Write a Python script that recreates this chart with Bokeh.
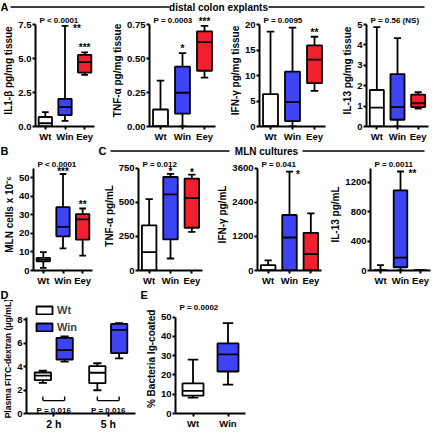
from bokeh.plotting import figure
from bokeh.layouts import column, row
from bokeh.models import (ColumnDataSource, FactorRange, Range1d, FixedTicker,
                          NumeralTickFormatter, LabelSet, Legend, LegendItem)
from bokeh.transform import dodge
from bokeh.core.properties import value
from bokeh.embed import file_html
from bokeh.resources import INLINE

# ---------------------------------------------------------------- data
groups3 = ["Wt", "Win", "Eey"]
groups2 = ["Wt", "Win"]
timepoints = ["2 h", "5 h"]

# five-number summaries per group: [lower whisker, Q1, median, Q3, upper whisker]
il1b_tissue = [[0.0, 0.0, 0.24, 0.70, 1.06], [0.42, 0.83, 1.42, 2.03, 7.40], [3.80, 3.96, 4.74, 5.26, 5.45]]
tnfa_tissue = [[0.0, 0.0, 0.0, 0.125, 0.337], [0.0, 0.094, 0.248, 0.44, 0.54], [0.36, 0.41, 0.62, 0.70, 0.74]]
ifng_tissue = [[0.0, 0.0, 0.0, 6.35, 18.6], [0.0, 1.07, 4.78, 10.75, 19.4], [7.0, 8.5, 13.1, 15.9, 17.6]]
il13_tissue = [[0.0, 0.0, 0.93, 1.79, 4.87], [0.0, 0.33, 0.95, 2.57, 4.33], [0.88, 0.95, 1.14, 1.56, 1.68]]
mln_cells = [[1.4, 4.95, 5.8, 6.8, 9.9], [11.9, 18.4, 23.5, 34.1, 52.0], [8.0, 16.6, 27.5, 30.4, 33.4]]
tnfa_mln = [[0, 0, 135, 331, 524], [88, 228, 559, 687, 710], [284, 314, 532, 675, 705]]
ifng_mln = [[0, 0, 0, 190, 358], [0, 0, 1163, 1957, 3488], [0, 0, 581, 1330, 2012]]
il13_mln = [[0, 0, 0, 0, 74], [0, 44, 175, 1091, 1348], [0, 0, 0, 0, 0]]
fitc_wt = [[2.60, 2.85, 3.22, 3.49, 3.64], [1.98, 2.58, 3.47, 4.04, 4.28]]
fitc_win = [[4.41, 4.60, 5.40, 6.44, 6.56], [4.70, 5.15, 7.13, 7.63, 7.70]]
ig_coated = [[8.2, 9.3, 11.8, 15.6, 28.0], [15.0, 21.8, 30.7, 36.4, 46.9]]

# significance marks
il1b_stars = ["", "**", "***"]
tnfa_t_stars = ["", "*", "***"]
ifng_t_stars = ["", "", "**"]
il13_t_stars = ["", "", ""]
mln_stars = ["", "***", "**"]
tnfa_m_stars = ["", "*", "*"]
ifng_m_stars = ["", "*", ""]
il13_m_stars = ["", "**", ""]

# P values
p_il1b, p_tnfa_t, p_ifng_t, p_il13_t = "P < 0.0001", "P = 0.0003", "P = 0.0095", "P = 0.56 (NS)"
p_mln, p_tnfa_m, p_ifng_m, p_il13_m = "P < 0.0001", "P = 0.012", "P = 0.041", "P = 0.0011"
p_fitc = ["P = 0.016", "P = 0.016"]
p_ig = "P = 0.0002"

# axis ticks
ticks_il1b = [0, 2.5, 5.0, 7.5]
ticks_tnfa_t = [0, 0.25, 0.50, 0.75]
ticks_ifng_t = [0, 5, 10, 15, 20]
ticks_il13_t = [0, 1, 2, 3, 4, 5]
ticks_mln = [0, 10, 20, 30, 40, 50]
ticks_tnfa_m = [0, 250, 500, 750]
ticks_ifng_m = [0, 1200, 2400, 3600]
ticks_il13_m = [0, 400, 800, 1200]
ticks_fitc = [0, 2, 4, 6, 8]
ticks_ig = [0, 10, 20, 30, 40, 50]

# ---------------------------------------------------------------- style
FONT = "Liberation Sans"
WHITE, BLUE, RED = "#ffffff", "#3c44f4", "#f2202f"
LW = 1.8


def style(p, ylabel, ticks, fmt, axis_top, ylabel_size="10px"):
    p.xgrid.visible = False
    p.ygrid.visible = False
    p.outline_line_color = None
    for ax in (p.xaxis[0], p.yaxis[0]):
        ax.axis_line_width = 2
        ax.axis_line_color = "black"
        ax.major_tick_line_width = 2
        ax.major_tick_line_color = "black"
        ax.major_tick_in = 0
        ax.major_tick_out = 3
        ax.minor_tick_line_color = None
        ax.major_label_text_font = FONT
        ax.major_label_text_font_size = "9.5px"
        ax.major_label_text_font_style = "bold"
        ax.major_label_text_color = "black"
        ax.major_label_standoff = 1
    p.yaxis.ticker = FixedTicker(ticks=ticks)
    p.yaxis.formatter = NumeralTickFormatter(format=fmt)
    p.yaxis.bounds = (0, axis_top)
    p.yaxis.axis_label = ylabel
    p.yaxis.axis_label_text_font = FONT
    p.yaxis.axis_label_text_font_size = ylabel_size
    p.yaxis.axis_label_text_font_style = "bold"
    p.yaxis.axis_label_text_color = "black"
    p.yaxis.axis_label_standoff = 1


def y_end_for(axis_top, height, tb, bb, extra_px):
    frame_h = height - tb - bb
    return axis_top * frame_h / (frame_h - extra_px)


def add_ptext(p, first_cat, y_end, text):
    src = ColumnDataSource(dict(x=[first_cat], y=[y_end], t=[text]))
    p.text(x=dodge("x", -0.5, range=p.x_range), y="y", text="t", source=src,
           x_offset=4, y_offset=1, text_align="left", text_baseline="top",
           text_font=value(FONT), text_font_size="8px", text_font_style="bold", text_color="black")


def draw_boxes(p, cats, stats, colors, box_w, off=0.0):
    src = ColumnDataSource(dict(
        x=list(cats), lo=[s[0] for s in stats], q1=[s[1] for s in stats],
        med=[s[2] for s in stats], q3=[s[3] for s in stats], hi=[s[4] for s in stats],
        color=list(colors)))
    xc = dodge("x", off, range=p.x_range)
    xl = dodge("x", off - box_w / 2, range=p.x_range)
    xr = dodge("x", off + box_w / 2, range=p.x_range)
    cl = dodge("x", off - box_w / 4, range=p.x_range)
    cr = dodge("x", off + box_w / 4, range=p.x_range)
    kw = dict(source=src, line_color="black", line_width=LW)
    p.segment(x0=xc, x1=xc, y0="q3", y1="hi", **kw)
    p.segment(x0=xc, x1=xc, y0="lo", y1="q1", **kw)
    p.segment(x0=cl, x1=cr, y0="hi", y1="hi", **kw)
    p.segment(x0=cl, x1=cr, y0="lo", y1="lo", **kw)
    r = p.vbar(x=xc, width=box_w, bottom="q1", top="q3", fill_color="color", **kw)
    p.segment(x0=xl, x1=xr, y0="med", y1="med", **kw)
    return r


def add_stars(p, cats, stats, stars, sides):
    xs, ys, ts, dx, dy = [], [], [], [], []
    for c, s, t, side in zip(cats, stats, stars, sides):
        if not t:
            continue
        xs.append(c)
        ys.append(s[4])
        ts.append(t)
        if side == "right":
            dx.append(5 + 3.5 * len(t))
            dy.append(-8)
        elif side == "low":
            dx.append(0)
            dy.append(-3)
        else:
            dx.append(0)
            dy.append(-1)
    src = ColumnDataSource(dict(x=xs, y=ys, text=ts, dx=dx, dy=dy))
    p.add_layout(LabelSet(x="x", y="y", text="text", x_offset="dx", y_offset="dy", source=src,
                          text_align="center", text_baseline="bottom",
                          text_font=value(FONT), text_font_size="10px",
                          text_font_style="bold", text_color="black"))


def box_panel(width, height, stats, stars, sides, axis_top, ticks, fmt, ylabel, ptext,
              lb, rb, bb, extra=10, tb=1, box_w=0.68, ylabel_size="10px"):
    y_end = y_end_for(axis_top, height, tb, bb, extra)
    p = figure(width=width, height=height, x_range=FactorRange(factors=groups3),
               y_range=Range1d(0, y_end), output_backend="svg", toolbar_location=None,
               min_border_left=lb, min_border_right=rb, min_border_top=tb, min_border_bottom=bb)
    style(p, ylabel, ticks, fmt, axis_top, ylabel_size)
    draw_boxes(p, groups3, stats, [WHITE, BLUE, RED], box_w)
    add_stars(p, groups3, stats, stars, sides)
    add_ptext(p, groups3[0], y_end, ptext)
    return p


def header(width, height, letters, lines, titles):
    h = figure(width=width, height=height, x_range=Range1d(0, width), y_range=Range1d(0, height),
               x_axis_type=None, y_axis_type=None, toolbar_location=None, output_backend="svg",
               min_border=0, outline_line_color=None)
    mid = height / 2
    if letters:
        h.text(x=[l[0] for l in letters], y=[mid] * len(letters), text=[l[1] for l in letters],
               text_align="left", text_baseline="middle", text_font=value(FONT),
               text_font_size="11px", text_font_style="bold", text_color="black")
    if lines:
        h.segment(x0=[l[0] for l in lines], x1=[l[1] for l in lines], y0=[mid] * len(lines),
                  y1=[mid] * len(lines), line_color="black", line_width=1.6)
    if titles:
        h.text(x=[t[0] for t in titles], y=[mid] * len(titles), text=[t[1] for t in titles],
               text_align="center", text_baseline="middle", text_font=value(FONT),
               text_font_size="10px", text_font_style="bold", text_color="black")
    return h


# ---------------------------------------------------------------- row A
HA = 131
a1 = box_panel(108, HA, il1b_tissue, il1b_stars, ["top", "right", "top"], 7.5, ticks_il1b, "0.0",
               "IL1-β pg/mg tissue", p_il1b, 30, 14, 18)
a2 = box_panel(117, HA, tnfa_tissue, tnfa_t_stars, ["top", "top", "top"], 0.75, ticks_tnfa_t, "0.00",
               "TNF-α pg/mg tissue", p_tnfa_t, 41, 10, 18)
a3 = box_panel(114, HA, ifng_tissue, ifng_t_stars, ["top", "top", "top"], 20, ticks_ifng_t, "0",
               "IFN-γ pg/mg tissue", p_ifng_t, 34, 14, 18)
a4 = box_panel(93, HA, il13_tissue, il13_t_stars, ["top", "top", "top"], 5, ticks_il13_t, "0",
               "IL-13 pg/mg tissue", p_il13_t, 22, 4, 18)

# ---------------------------------------------------------------- row B / C
HB = 131
b1 = box_panel(100, HB, mln_cells, mln_stars, ["top", "low", "top"], 55, ticks_mln, "0",
               "MLN cells x 10⁻⁶", p_mln, 26, 8, 17)
c1 = box_panel(114, HB, tnfa_mln, tnfa_m_stars, ["top", "low", "low"], 750, ticks_tnfa_m, "0",
               "TNF-α  pg/mL", p_tnfa_m, 34, 12, 17)
c2 = box_panel(113, HB, ifng_mln, ifng_m_stars, ["top", "right", "top"], 3600, ticks_ifng_m, "0",
               "IFN-γ pg/mL", p_ifng_m, 38, 6, 17)
c3 = box_panel(105, HB, il13_mln, il13_m_stars, ["top", "right", "top"], 1390, ticks_il13_m, "0",
               "IL-13 pg/mL", p_il13_m, 38, 2, 17)

# ---------------------------------------------------------------- row D / E
HD = 132
D_EXTRA = 16
d_end = y_end_for(8.2, HD, 1, 17, D_EXTRA)
d = figure(width=142, height=HD, x_range=FactorRange(factors=timepoints), y_range=Range1d(0, d_end),
           output_backend="svg", toolbar_location=None,
           min_border_left=22, min_border_right=7, min_border_top=1, min_border_bottom=17)
style(d, "Plasma  FITC-dextran (μg/mL)", ticks_fitc, "0", 8.2, ylabel_size="8.6px")
d.xaxis.major_label_text_font_size = "10.5px"
r_wt = draw_boxes(d, timepoints, fitc_wt, [WHITE, WHITE], 0.3, off=-0.2)
r_win = draw_boxes(d, timepoints, fitc_win, [BLUE, BLUE], 0.3, off=0.2)
br = ColumnDataSource(dict(x=timepoints, y=[1.1, 1.1], top=[1.45, 1.45], p=p_fitc, ty=[0.22, 0.22]))
bl = dodge("x", -0.2, range=d.x_range)
bri = dodge("x", 0.2, range=d.x_range)
d.segment(x0=bl, x1=bri, y0="y", y1="y", source=br, line_color="black", line_width=1.4)
d.segment(x0=bl, x1=bl, y0="y", y1="top", source=br, line_color="black", line_width=1.4)
d.segment(x0=bri, x1=bri, y0="y", y1="top", source=br, line_color="black", line_width=1.4)
d.text(x="x", y="ty", text="p", source=br, text_align="center", text_baseline="alphabetic",
       text_font=value(FONT), text_font_size="8px", text_font_style="bold", text_color="black")
d_frame_h = HD - 1 - 17
legend = Legend(items=[LegendItem(label="Wt", renderers=[r_wt]), LegendItem(label="Win", renderers=[r_win])],
                location=(8, d_frame_h - 34), glyph_width=20, glyph_height=10, label_height=10, label_width=10,
                spacing=5, padding=0, margin=0, border_line_color=None, background_fill_alpha=0,
                label_text_font=FONT, label_text_font_size="11px", label_text_font_style="bold",
                label_standoff=3)
d.add_layout(legend)

e_end = y_end_for(50, HD, 1, 17, D_EXTRA)
e = figure(width=115, height=HD, x_range=FactorRange(factors=groups2), y_range=Range1d(0, e_end),
           output_backend="svg", toolbar_location=None,
           min_border_left=26, min_border_right=12, min_border_top=1, min_border_bottom=17)
style(e, "% Bacteria  Ig-coated", ticks_ig, "0", 50)
draw_boxes(e, groups2, ig_coated, [WHITE, BLUE], 0.6)
add_ptext(e, groups2[0], e_end, p_ig)

# ---------------------------------------------------------------- headers
hA = header(432, 13, [(0, "A")], [(10, 169), (268, 424)], [(218, "distal colon explants")])
hB = header(432, 13, [(0, "B"), (98, "C")], [(110, 229), (302, 424)], [(266, "MLN cultures")])
hD = header(265, 12, [(0, "D"), (140, "E")], [], [])

layout = column(hA, row(a1, a2, a3, a4), hB, row(b1, c1, c2, c3), hD, row(d, e))

with open("out.html", "w") as f:
    f.write(file_html(layout, INLINE))
